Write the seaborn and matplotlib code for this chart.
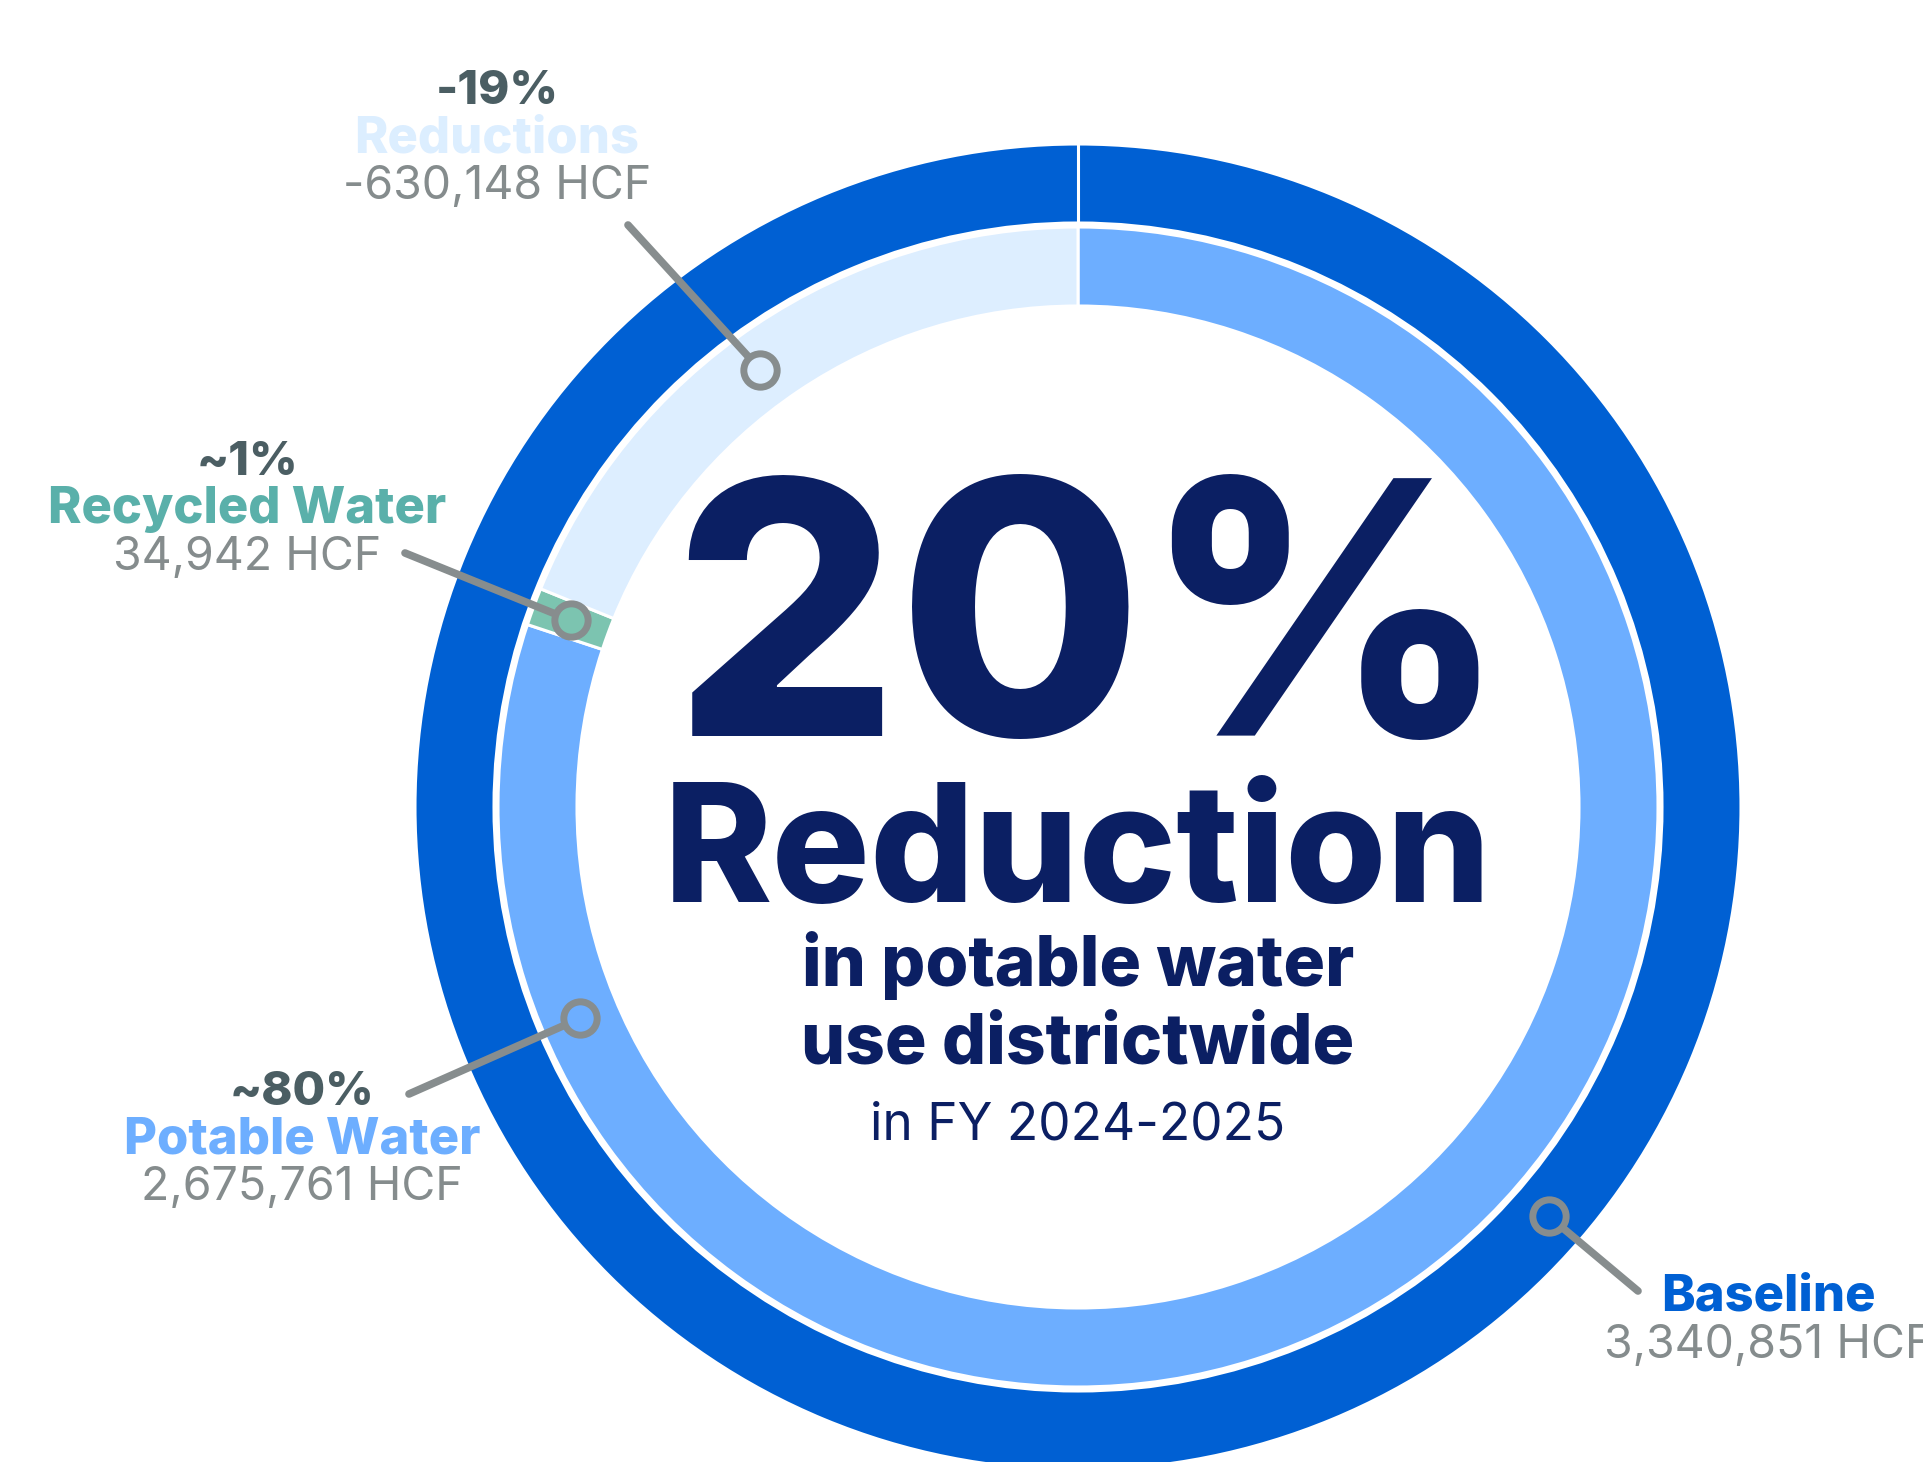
import numpy as np
import seaborn as sns
import matplotlib.pyplot as plt

# ── Data
segments = ["Potable Water", "Recycled Water", "Reductions"]
hcf = [2675761, 34942, 630148]
pct_labels = ["~80%", "~1%", "-19%"]
baseline_hcf = 3340851

seg_colors = ["#6DAEFF", "#7CC4B0", "#DDEEFF"]
label_colors = ["#6DAEFF", "#5AB0AA", "#DCEEFF"]
baseline_color = "#0060D3"
navy = "#0B1F63"
pct_gray = "#4B5E63"
hcf_gray = "#858C8D"
leader_gray = "#878D8E"

sns.set_theme(style="white")
plt.rcParams["font.family"] = ["Inter", "DejaVu Sans"]

W, H = 1924, 1462
CX, CY = 1078, 807          # ring centre in pixels
R_OUT, R_OUT_IN = 663, 584   # baseline ring
R_IN, R_IN_IN = 580, 501     # breakdown ring


def P(px, py):
    # pixel (top-left origin) -> data coords (centre origin, y up)
    return px - CX, CY - py


def polar(angle_cw_from_top, r):
    a = np.deg2rad(90 - angle_cw_from_top)
    return r * np.cos(a), r * np.sin(a)


fig = plt.figure(figsize=(W / 100, H / 100), dpi=100)
ax = fig.add_axes([0, 0, 1, 1])

edge = dict(edgecolor="white", linewidth=2.2)
ax.pie([baseline_hcf], colors=[baseline_color], radius=R_OUT, startangle=90,
       counterclock=False, wedgeprops=dict(width=R_OUT - R_OUT_IN, **edge))
ax.plot([0, 0], [R_OUT_IN, R_OUT], color="white", lw=2.2, zorder=3)
ax.pie(hcf, colors=seg_colors, radius=R_IN, startangle=90, counterclock=False,
       wedgeprops=dict(width=R_IN - R_IN_IN, **edge))

ax.set_xlim(-CX, W - CX)
ax.set_ylim(CY - H, CY)
ax.set_aspect("equal")
ax.axis("off")

# ── Leader lines with ring markers
frac = np.array(hcf) / sum(hcf)
cum = np.concatenate([[0], np.cumsum(frac)]) * 360
r_mid_in = (R_IN + R_IN_IN) / 2
r_mid_out = (R_OUT + R_OUT_IN) / 2
leaders = [
    (polar(247, r_mid_in), P(409, 1094), seg_colors[0]),
    (polar((cum[1] + cum[2]) / 2, r_mid_in), P(405, 553), seg_colors[1]),
    (polar(324, r_mid_in), P(628, 225), seg_colors[2]),
    (polar(131, r_mid_out), P(1638, 1291), baseline_color),
]
for (mx, my), (ex, ey), fc in leaders:
    ax.plot([mx, ex], [my, ey], color=leader_gray, lw=5.5,
            solid_capstyle="round", zorder=4)
    ax.plot(mx, my, marker="o", ms=24, mfc=fc, mec=leader_gray, mew=5, zorder=5)

# ── Segment labels
label_pos = [(302, 1093), (247, 463), (497, 92)]
for name, val, pct, col, (lx, ly) in zip(segments, hcf, pct_labels, label_colors, label_pos):
    x, y = P(lx, ly)
    ax.text(x, y, pct, ha="center", va="center", fontsize=34, fontweight="heavy", color=pct_gray)
    x, y = P(lx, ly + 47)
    ax.text(x, y, name, ha="center", va="center", fontsize=36.5, fontweight="heavy", color=col)
    x, y = P(lx, ly + 95)
    txt = f"{val:,} HCF" if name != "Reductions" else f"-{val:,} HCF"
    ax.text(x, y, txt, ha="center", va="center", fontsize=33.5, color=hcf_gray)

x, y = P(1768, 1297)
ax.text(x, y, "Baseline", ha="center", va="center", fontsize=36.5, fontweight="heavy", color=baseline_color)
x, y = P(1768, 1346)
ax.text(x, y, f"{baseline_hcf:,} HCF", ha="center", va="center", fontsize=33.5, color=hcf_gray)

# ── Centre headline
x, y = P(1090, 736)
ax.text(x, y, "20%", ha="center", va="baseline", fontsize=255, fontweight="heavy", color=navy)
x, y = P(1078, 902)
ax.text(x, y, "Reduction", ha="center", va="baseline", fontsize=118, fontweight="heavy", color=navy)
x, y = P(1078, 986)
ax.text(x, y, "in potable water", ha="center", va="baseline", fontsize=50, fontweight="heavy", color=navy)
x, y = P(1078, 1064)
ax.text(x, y, "use districtwide", ha="center", va="baseline", fontsize=50, fontweight="heavy", color=navy)
x, y = P(1078, 1139)
ax.text(x, y, "in FY 2024-2025", ha="center", va="baseline", fontsize=37, color=navy)

fig.savefig("out.png", dpi=100, facecolor="white")
